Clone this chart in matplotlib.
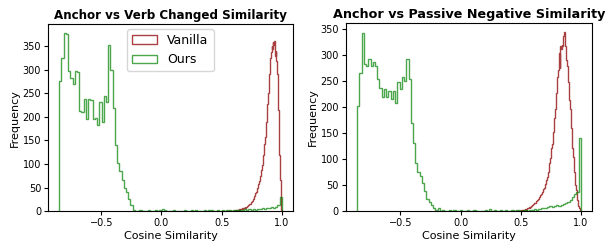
import numpy as np
import matplotlib
matplotlib.use("Agg")
import matplotlib.pyplot as plt

# green ("Ours") histograms: 100 bins each
ours_verb_range = (-0.85, 1.0)
ours_verb_counts = [
    277, 325, 378, 376, 297, 283, 270, 297, 295, 212,
    210, 237, 195, 237, 235, 196, 197, 183, 232, 190,
    244, 232, 352, 300, 219, 140, 102, 85, 65, 50,
    40, 25, 12, 2, 1, 0, 2, 1, 0, 1,
    3, 1, 0, 2, 1, 2, 5, 2, 1, 0,
    1, 2, 1, 0, 1, 1, 2, 0, 1, 3,
    1, 2, 1, 0, 1, 2, 1, 3, 2, 1,
    0, 2, 1, 2, 1, 3, 2, 1, 2, 3,
    2, 3, 2, 4, 3, 5, 3, 4, 3, 5,
    4, 6, 5, 7, 6, 8, 7, 9, 12, 30,
]
ours_passive_range = (-0.86, 1.0)
ours_passive_counts = [
    203, 266, 344, 283, 280, 293, 280, 287, 280, 255,
    238, 219, 235, 219, 232, 216, 232, 209, 248, 235,
    258, 250, 293, 255, 170, 131, 93, 76, 67, 54,
    38, 23, 18, 12, 5, 2, 5, 1, 2, 0,
    1, 3, 1, 2, 1, 0, 2, 1, 1, 2,
    0, 1, 2, 1, 1, 0, 1, 2, 1, 4,
    1, 2, 0, 1, 2, 1, 2, 1, 0, 3,
    1, 2, 2, 1, 3, 2, 1, 2, 2, 4,
    3, 4, 6, 5, 6, 7, 10, 8, 9, 12,
    10, 12, 14, 16, 18, 22, 28, 33, 37, 140,
]

# red ("Vanilla") histograms: bins of 0.005 up to 1.0
vanilla_verb_range = (0.55, 1.0)
vanilla_verb_counts = [
    0, 0, 1, 0, 0, 1, 0, 1, 1, 0,
    1, 1, 2, 1, 2, 2, 3, 2, 3, 4,
    3, 4, 5, 4, 6, 5, 7, 6, 8, 7,
    9, 8, 11, 10, 13, 12, 15, 14, 17, 19,
    22, 21, 26, 28, 31, 33, 38, 41, 46, 50,
    55, 58, 64, 68, 74, 80, 88, 97, 108, 118,
    131, 142, 158, 172, 190, 207, 228, 250, 270, 290,
    308, 325, 338, 350, 343, 358, 352, 362, 345, 330,
    340, 318, 290, 255, 215, 170, 120, 65, 20, 3,
]
vanilla_passive_range = (0.45, 1.0)
vanilla_passive_counts = [
    0, 0, 0, 1, 0, 0, 1, 0, 1, 1,
    1, 2, 1, 2, 2, 3, 2, 3, 4, 3,
    4, 5, 5, 6, 7, 6, 8, 9, 10, 11,
    12, 13, 14, 15, 16, 18, 19, 21, 22, 24,
    26, 27, 29, 31, 33, 35, 37, 40, 42, 45,
    48, 52, 56, 60, 65, 70, 76, 83, 92, 103,
    115, 122, 130, 140, 152, 165, 180, 196, 212, 228,
    245, 258, 272, 290, 305, 275, 318, 312, 320, 318,
    330, 338, 345, 332, 318, 305, 292, 280, 265, 248,
    232, 215, 196, 178, 160, 140, 122, 105, 90, 75,
    62, 50, 40, 30, 22, 15, 10, 6, 3, 1,
]

titles = ["Anchor vs Verb Changed Similarity", "Anchor vs Passive Negative Similarity"]
title_sizes = [8.6, 9.2]


def draw_hist(ax, counts, rng, **kw):
    edges = np.linspace(rng[0], rng[1], len(counts) + 1)
    centers = (edges[:-1] + edges[1:]) / 2
    ax.hist(centers, bins=edges, weights=counts, histtype='step', **kw)


fig = plt.figure(figsize=(6.09, 2.46), dpi=100)
ax1 = fig.add_axes([0.079, 0.142, 0.402, 0.76])
ax2 = fig.add_axes([0.568, 0.142, 0.404, 0.764])

panels = [
    (ax1, vanilla_verb_counts, vanilla_verb_range, ours_verb_counts, ours_verb_range),
    (ax2, vanilla_passive_counts, vanilla_passive_range, ours_passive_counts, ours_passive_range),
]
for (ax, vc, vr, oc, orng), title, tsize in zip(panels, titles, title_sizes):
    draw_hist(ax, vc, vr, color='darkred', alpha=0.75, label='Vanilla')
    draw_hist(ax, oc, orng, color='green', alpha=0.7, label='Ours')
    ax.set_title(title, fontsize=tsize, fontweight='bold', pad=4)
    ax.set_xlabel('Cosine Similarity', fontsize=8, labelpad=2)
    ax.set_ylabel('Frequency', fontsize=8, labelpad=2)
    ax.tick_params(labelsize=7, length=3, pad=2)
    ax.set_xlim(orng[0] - 0.05 * (orng[1] - orng[0]), orng[1] + 0.05 * (orng[1] - orng[0]))

ax1.legend(loc='upper center', fontsize=9, borderaxespad=0.4)

fig.savefig('out.png', dpi=100)
